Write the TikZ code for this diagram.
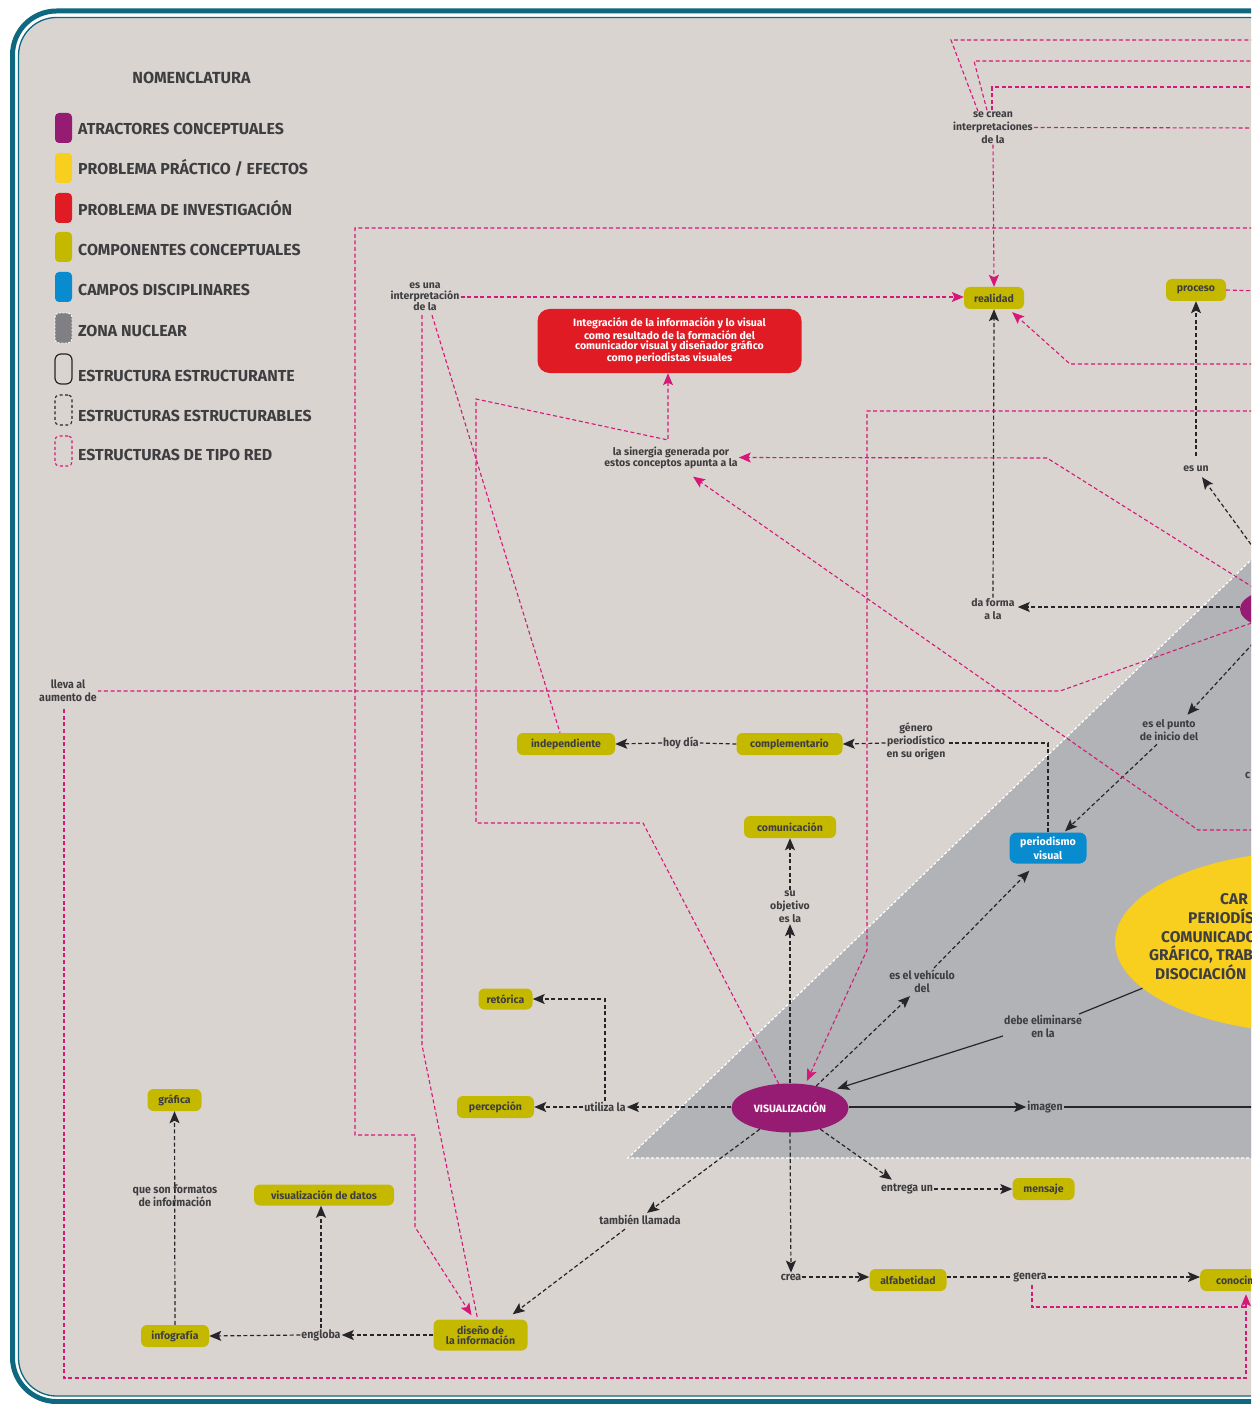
\documentclass[tikz,border=0pt]{standalone}
\usepackage{fontspec}
\setmainfont{Fira Sans}
\newfontfamily\fcond[FakeStretch=0.92]{Fira Sans}
\usetikzlibrary{arrows.meta,shapes.geometric,calc}

\definecolor{paper}{RGB}{218,212,209}
\definecolor{frame}{RGB}{14,104,128}
\definecolor{ink}{RGB}{62,62,64}
\definecolor{olive}{RGB}{197,185,0}
\definecolor{plum}{RGB}{150,27,114}
\definecolor{crimson}{RGB}{224,27,36}
\definecolor{sky}{RGB}{8,140,207}
\definecolor{sun}{RGB}{248,206,31}
\definecolor{zone}{RGB}{178,179,183}
\definecolor{zonedark}{RGB}{128,128,132}
\definecolor{netpink}{RGB}{214,24,120}
\definecolor{arrowink}{RGB}{38,38,40}

\begin{document}
\begin{tikzpicture}[x=1pt,y=-1pt,
  comp/.style={rounded corners=6pt, fill=olive, text=ink, inner sep=0pt, align=center,
    font=\bfseries\fontsize{10.5}{11}\selectfont, minimum height=22pt},
  lbl/.style={text=ink, inner sep=1pt, align=center, font=\bfseries\fontsize{10.5}{13}\selectfont},
  tight/.style={font=\bfseries\fontsize{10.5}{11}\selectfont},
  clbl/.style={text=ink, inner sep=1pt, align=center, font=\fcond\bfseries\fontsize{11.5}{13}\selectfont},
  dk/.style={draw=arrowink, line width=1.2pt, dash pattern=on 4pt off 2.6pt},
  dkarrow/.style={dk, -{Stealth[length=12pt,width=10pt,inset=2.5pt]}},
  sol/.style={draw=arrowink, line width=1.2pt},
  solarrow/.style={sol, -{Stealth[length=12pt,width=10pt,inset=2.5pt]}},
  web/.style={draw=netpink, line width=1.1pt, dash pattern=on 4pt off 2.6pt},
  webarrow/.style={web, -{Stealth[length=12pt,width=10pt,inset=2.5pt]}},
  legtext/.style={anchor=base west, text=ink, inner sep=0pt, font=\bfseries\fontsize{15.9}{17}\selectfont},
  swatch/.style={rounded corners=4pt, minimum width=17pt, minimum height=30pt, inner sep=0pt}
]
\useasboundingbox (0,0) rectangle (1251,1404);
\begin{scope}
\clip (0,0) rectangle (1251,1404);

% sheet and frame
\fill[white] (0,0) rectangle (1251,1404);
\fill[paper, rounded corners=38pt] (1320,17.5) -- (18.5,17.5) -- (18.5,1396) -- (1320,1396) -- cycle;
\draw[frame, line width=1.3pt, rounded corners=38pt] (1320,17.5) -- (18.5,17.5) -- (18.5,1396) -- (1320,1396);
\draw[frame, line width=5pt, rounded corners=44pt] (1320,11) -- (12.5,11) -- (12.5,1401.5) -- (1320,1401.5);

% nuclear zone
\fill[zone] (628,1158) -- (1275,537) -- (1275,1158) -- cycle;
\draw[white, line width=1.2pt, dash pattern=on 3pt off 2pt] (1275,537) -- (628,1158) -- (1275,1158);

% legend
\node[text=ink, font=\bfseries\fontsize{16.1}{17}\selectfont, inner sep=0pt, anchor=base] (legtitle) at (191.5,84) {NOMENCLATURA};
\node[swatch, fill=plum] (sw1) at (63.5,128) {};
\node[swatch, fill=sun] (sw2) at (63.5,168) {};
\node[swatch, fill=crimson] (sw3) at (63.5,208) {};
\node[swatch, fill=olive] (sw4) at (63.5,247) {};
\node[swatch, fill=sky] (sw5) at (63.5,287) {};
\node[swatch, fill=zonedark, draw=white, dash pattern=on 2pt off 1.5pt, line width=0.9pt] (sw6) at (63.5,328) {};
\node[swatch, draw=arrowink, line width=1.2pt, rounded corners=6pt] (sw7) at (63.5,369) {};
\node[swatch, draw=arrowink, line width=1.1pt, dash pattern=on 3pt off 2.5pt] (sw8) at (63.5,410) {};
\node[swatch, draw=netpink, line width=1.1pt, dash pattern=on 3pt off 2.5pt] (sw9) at (63.5,451) {};
\node[legtext] (lt1) at (78,135) {ATRACTORES CONCEPTUALES};
\node[legtext] (lt2) at (78,175) {PROBLEMA PRÁCTICO / EFECTOS};
\node[legtext] (lt3) at (78,216) {PROBLEMA DE INVESTIGACIÓN};
\node[legtext] (lt4) at (78,256) {COMPONENTES CONCEPTUALES};
\node[legtext] (lt5) at (78,295) {CAMPOS DISCIPLINARES};
\node[legtext] (lt6) at (78,336) {ZONA NUCLEAR};
\node[legtext] (lt7) at (78,381) {ESTRUCTURA ESTRUCTURANTE};
\node[legtext] (lt8) at (78,421) {ESTRUCTURAS ESTRUCTURABLES};
\node[legtext] (lt9) at (78,460) {ESTRUCTURAS DE TIPO RED};

% attractors and main shapes
\node[ellipse, fill=sun, minimum width=400pt, minimum height=182pt, inner sep=0pt] (yel) at (1315,942) {};
\node[ellipse, fill=plum, minimum width=100pt, minimum height=44pt, inner sep=0pt] (rell) at (1290,609) {};
\node[ellipse, fill=plum, minimum width=117pt, minimum height=49pt, inner sep=0pt, text=white,
      font=\bfseries\fontsize{10.6}{11}\selectfont] (vis) at (790,1108) {VISUALIZACIÓN};
\node[rounded corners=12pt, fill=crimson, text=white, minimum width=264pt, minimum height=64pt,
      inner sep=0pt, align=center, font=\bfseries\fontsize{10.6}{10.7}\selectfont] (redbox) at (669.5,341)
      {Integración de la información y lo visual\\como resultado de la formación del\\comunicador visual y diseñador gráfico\\como periodistas visuales};
\node[rounded corners=7pt, fill=sky, text=white, minimum width=77pt, minimum height=31pt, inner sep=0pt,
      align=center, font=\bfseries\fontsize{10.7}{13.5}\selectfont] (periodismo) at (1048,848) {periodismo\\visual};

% text of the central problem
\begin{scope}[every node/.style={anchor=base west, text=ink, inner sep=0pt, font=\bfseries\fontsize{15.5}{18}\selectfont}]
\node (y1) at (1220,904) {CAR};
\node (y2) at (1188,923) {PERIODÍS};
\node (y3) at (1161,942) {COMUNICADO};
\node (y4) at (1149,960) {GRÁFICO, TRAB};
\node (y5) at (1155,979) {DISOCIACIÓN};
\end{scope}

% conceptual components
\node[comp, minimum width=60pt] (realidad) at (994,298) {realidad};
\node[comp, minimum width=60pt] (proceso) at (1196,290) {proceso};
\node[comp, minimum width=98pt] (independiente) at (566,744) {independiente};
\node[comp, minimum width=106pt] (complementario) at (789.5,744) {complementario};
\node[comp, minimum width=92pt] (comunicacion) at (790,827) {comunicación};
\node[comp, minimum width=54pt, minimum height=21pt] (retorica) at (505.5,999) {retórica};
\node[comp, minimum width=77pt] (percepcion) at (495.5,1107) {percepción};
\node[comp, minimum width=54pt] (grafica) at (174.5,1100) {gráfica};
\node[comp, minimum width=140pt, minimum height=21pt] (vizdatos) at (324,1195) {visualización de datos};
\node[comp, minimum width=68pt] (infografia) at (175,1336) {infografía};
\node[comp, minimum width=94pt, minimum height=31pt, font=\bfseries\fontsize{10.5}{10}\selectfont] (diseno) at (480.5,1335) {diseño de\\la información};
\node[comp, minimum width=62pt] (mensaje) at (1043.5,1189) {mensaje};
\node[comp, minimum width=77pt] (alfabetidad) at (908,1280) {alfabetidad};
\node[comp, minimum width=100pt, anchor=west, text width=88pt, align=left] (conocim) at (1200,1280) {\hspace*{10pt}conocim};

% link phrases
\node[lbl] (secrean) at (993,127.5) {se crean\\interpretaciones\\de la};
\node[lbl, tight] (esuna) at (425,297) {es una\\interpretación\\de la};
\node[lbl, tight] (sinergia) at (671,457.5) {la sinergia generada por\\estos conceptos apunta a la};
\node[lbl] (esun) at (1196,469) {es un};
\node[lbl] (daforma) at (993,609.5) {da forma\\a la};
\node[lbl] (puntoinicio) at (1169,730.5) {es el punto\\de inicio del};
\node[clbl] (lleva) at (68,691) {lleva al\\aumento de};
\node[clbl] (hoydia) at (681,743) {hoy día};
\node[lbl] (genero) at (916,741.5) {género\\periodístico\\en su origen};
\node[lbl] (suobj) at (790,907) {su\\objetivo\\es la};
\node[clbl] (vehiculo) at (922,981.5) {es el vehículo\\del};
\node[clbl] (debe) at (1043,1026.5) {debe eliminarse\\en la};
\node[clbl] (utiliza) at (605,1107) {utiliza la};
\node[clbl] (imagen) at (1045,1107) {imagen};
\node[clbl] (entrega) at (907,1189) {entrega un};
\node[clbl] (tambien) at (640,1220) {también llamada};
\node[clbl] (crea) at (791,1277) {crea};
\node[clbl] (genera) at (1030,1277) {genera};
\node[clbl] (engloba) at (321,1335) {engloba};
\node[clbl, anchor=west] (fragc) at (1244,775) {c};
\node[clbl] (queson) at (175,1196) {que son formatos\\de información};

% free ends at the sheet edge
\coordinate (e40) at (1260,40);
\coordinate (e61) at (1260,61);
\coordinate (e87) at (1260,87);
\coordinate (e128) at (1260,128);
\coordinate (e228) at (1260,228);
\coordinate (e291) at (1260,291);
\coordinate (e364) at (1260,364);
\coordinate (e411) at (1260,411);
\coordinate (e830) at (1260,830);
\coordinate (e1107) at (1260,1107);
\coordinate (j1307) at (1246,1307);

% ---- structuring connectors (dark) ----
\draw[dkarrow] (vis.north) -- (suobj.south);
\draw[dkarrow] (suobj.north) -- (comunicacion.south);
\draw[dkarrow] (vis.west |- utiliza.east) -- (utiliza.east);
\draw[dkarrow] (utiliza.west) -- (utiliza.west -| percepcion.east);
\draw[dkarrow] (utiliza.north) |- (retorica.east);
\draw[dkarrow] (vis.40) -- ($(vehiculo.south)+(-12,2)$);
\draw[dkarrow] ($(vehiculo.north)+(12,-1)$) -- ($(periodismo.south west)+(20,7)$);
\draw[dkarrow] (vis.-35) -- ($(entrega.north west)+(12,-3)$);
\draw[dkarrow] (entrega.east) -- (mensaje.west);
\draw[dkarrow] (vis.south) -- (crea.north);
\draw[dkarrow] (crea.east) -- (crea.east -| alfabetidad.west);
\draw[dk] (alfabetidad.east |- genera.west) -- (genera.west);
\draw[dkarrow] (genera.east) -- (genera.east -| conocim.west);
\draw[dkarrow] (vis.-145) -- ($(tambien.north)+(7,-1)$);
\draw[dkarrow] ($(tambien.south)+(-15,3)$) -- ($(diseno.north east)+(-15,-5)$);
\draw[dkarrow] (diseno.west) -- (engloba.east);
\draw[dkarrow] (engloba.west) -- (infografia.east);
\draw[dkarrow] (engloba.north) -- (engloba.north |- vizdatos.south);
\draw[dkarrow] (infografia.north) -- (grafica.south);
\draw[dk] (periodismo.north) |- ($(genero.east)+(0,1.5)$);
\draw[dkarrow] ($(genero.west)+(0,1.5)$) -- (complementario.east);
\draw[dk] (complementario.west) -- (hoydia.east);
\draw[dkarrow] (hoydia.west) -- (independiente.east);
\draw[dkarrow] ($(rell.west)+(0,-2)$) -- ($(daforma.east)+(2,-2.5)$);
\draw[dkarrow] (daforma.north) -- (realidad.south);
\draw[dkarrow] (rell.110) -- ($(esun.south)+(6,4)$);
\draw[dkarrow, shorten <=9pt] (esun.north) -- (proceso.south);
\draw[dkarrow] (rell.-140) -- ($(puntoinicio.north east)+(-12,-4)$);
\draw[dkarrow] ($(puntoinicio.south)+(-12,2)$) -- ($(periodismo.north)+(17,-1)$);

% solid structuring connectors
\draw[sol] (yel.195) -- ($(debe.north east)+(-4,0)$);
\draw[solarrow] ($(debe.south west)+(0,-3)$) -- ($(vis.25)+(8,-1)$);
\draw[solarrow] (vis.east |- imagen.west) -- (imagen.west);
\draw[sol] (imagen.east) -- (e1107);

% ---- network connectors (pink) ----
\draw[web] ($(secrean.north)+(-15,1)$) -- (951,40) -- (e40);
\draw[web] ($(secrean.north)+(-6,0)$) -- (974,61) -- (e61);
\draw[web] ($(secrean.north)+(-1,0)$) -- (992,87) -- (e87);
\draw[web] (secrean.east) -- (e128);
\draw[webarrow] (secrean.south) -- (realidad.north);
\draw[webarrow] (e228) -- (355,228) -- (355,1135) -- (415,1135) -- (415,1227) -- ($(diseno.north)+(-9,-4)$);
\draw[webarrow] (esuna.east) -- (esuna.east -| realidad.west);
\draw[web] ($(esuna.south)+(-3,3)$) -- (422,1045) -- ($(diseno.north)+(-3,-1)$);
\draw[web] ($(esuna.south)+(7,3)$) -- ($(independiente.north)+(-6,0)$);
\draw[webarrow] (vis.115) -- (643,823) -- (476,823) -- (476,399) -- (668,440) -- (redbox.south -| 668,0);
\draw[webarrow] (e411) -- (867,411) -- (867,950) -- ($(vis.60)+(3,-3)$);
\draw[webarrow] (rell.150) -- (1047,458) -- (sinergia.east);
\draw[webarrow] (e830) -- (1198,830) -- ($(sinergia.south)+(22,7)$);
\draw[web] (rell.-160) -- (1060,691) -- (lleva.east);
\draw[webarrow] ($(lleva.south)+(-4,6)$) -- (64,1378) -- (1246,1378) -- ($(conocim.south west)+(46,3)$);
\draw[web] ($(genera.south)+(2,2)$) |- (j1307);
\draw[webarrow] (e364) -- (1070,364) -- ($(realidad.south east)+(-12,3)$);
\draw[web] (proceso.east) -- (e291);
\end{scope}
\end{tikzpicture}
\end{document}
